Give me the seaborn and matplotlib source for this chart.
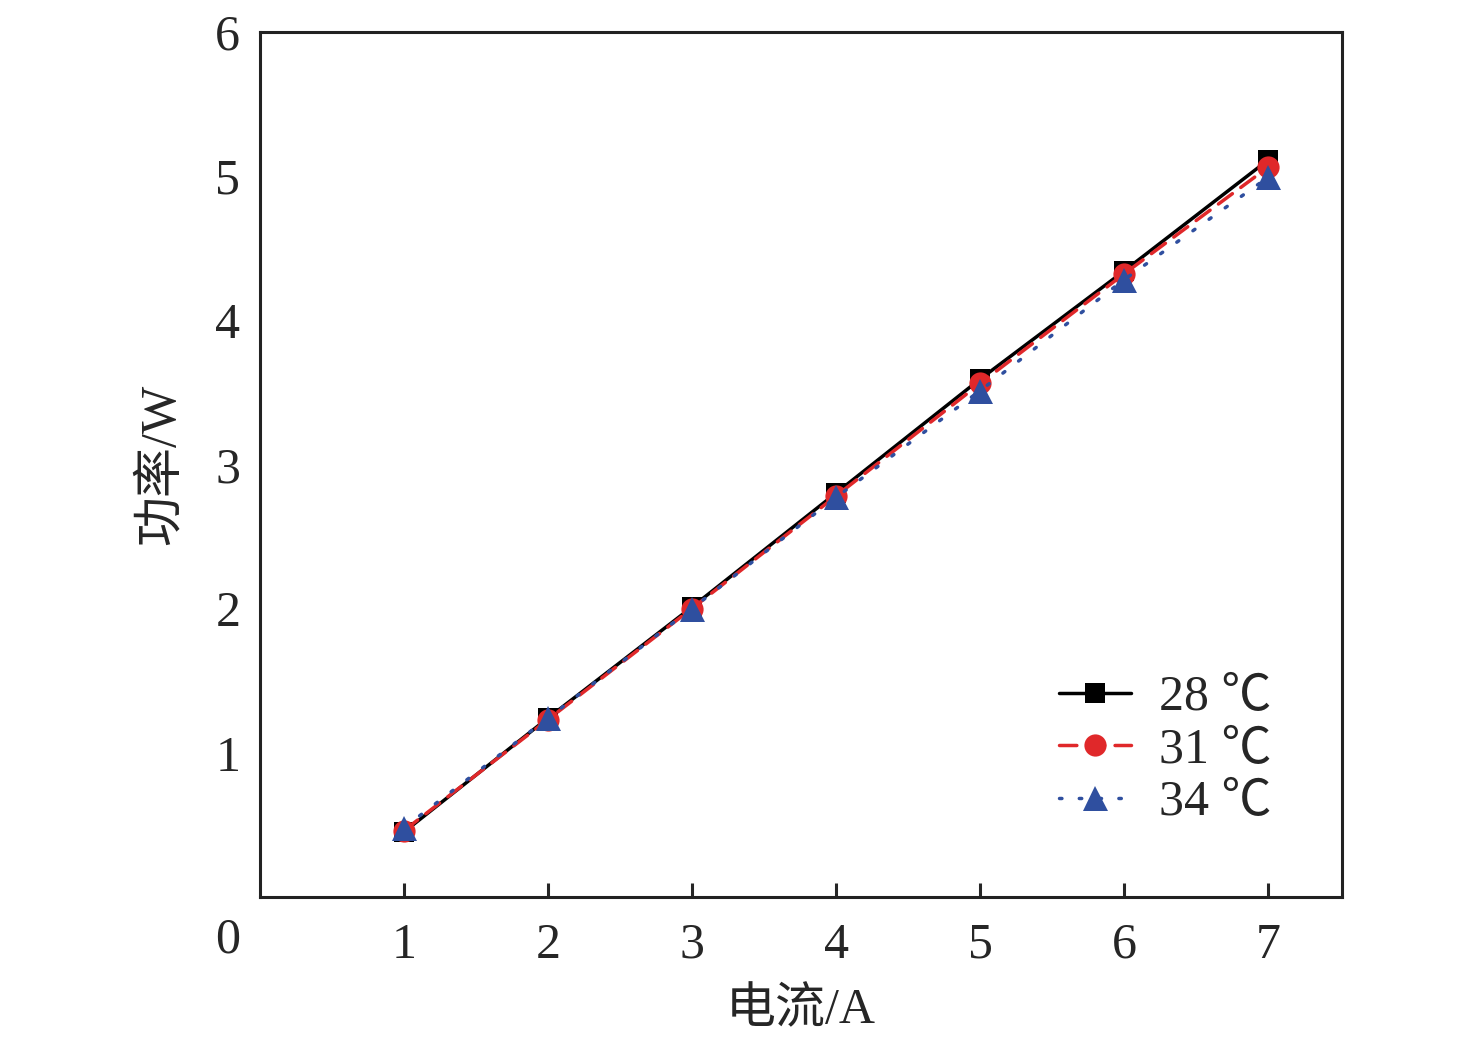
import pandas as pd
from matplotlib import pyplot as plt
import seaborn as sns

sns.set_style('ticks')
plt.rcParams['font.family'] = ['Liberation Serif', 'Noto Sans CJK SC', 'DejaVu Sans']

current = [1, 2, 3, 4, 5, 6, 7]
p28 = [0.45, 1.24, 2.01, 2.80, 3.59, 4.34, 5.11]
p31 = [0.46, 1.23, 2.00, 2.78, 3.56, 4.32, 5.06]
p34 = [0.48, 1.24, 2.00, 2.77, 3.51, 4.28, 4.99]
labels = ['28 ℃', '31 ℃', '34 ℃']
colors = ['#000000', '#e0282a', '#2f4f9f']
markers = ['s', 'o', '^']
msizes = [15, 16, 18]
styles = ['-', (0, (5, 3)), (0, (0.7, 5))]

fig = plt.figure(figsize=(14.76, 10.44), dpi=100)
ax = fig.add_axes([0.176, 0.1408, 0.733, 0.829])

for y, lab, c, m, ms, ls in zip([p28, p31, p34], labels, colors, markers, msizes, styles):
    sns.lineplot(x=current, y=y, color=c, marker=m, markersize=ms,
                 markeredgewidth=0, linestyle=ls, lw=2.5, label=lab,
                 dash_capstyle='round', ax=ax)

ax.set_xlim(0, 7.51)
ax.set_ylim(0, 6)
ax.set_xticks(current)
ax.set_yticks([1, 2, 3, 4, 5, 6])
ax.tick_params(axis='x', direction='in', length=10, width=2.2, labelsize=36, pad=18,
               top=False)
ax.tick_params(axis='y', direction='in', length=0, width=2.2, labelsize=36, pad=14,
               right=False)
for s in ax.spines.values():
    s.set_linewidth(2.2)
    s.set_color('#222222')
ax.text(-0.03, -0.05, '0', transform=ax.transAxes, fontsize=36,
        ha='center', va='center')

ax.set_xlabel('电流/A', fontsize=36, labelpad=14)
ax.set_ylabel('功率/W', fontsize=36, labelpad=22)

leg = ax.legend(loc='upper left', bbox_to_anchor=(0.72, 0.28), frameon=False,
                fontsize=36, handlelength=1.45, labelspacing=0.12, handletextpad=0.55,
                borderaxespad=0)
for h in leg.legend_handles:
    h.set_dash_capstyle('round')

fig.savefig('out.png', dpi=100)
